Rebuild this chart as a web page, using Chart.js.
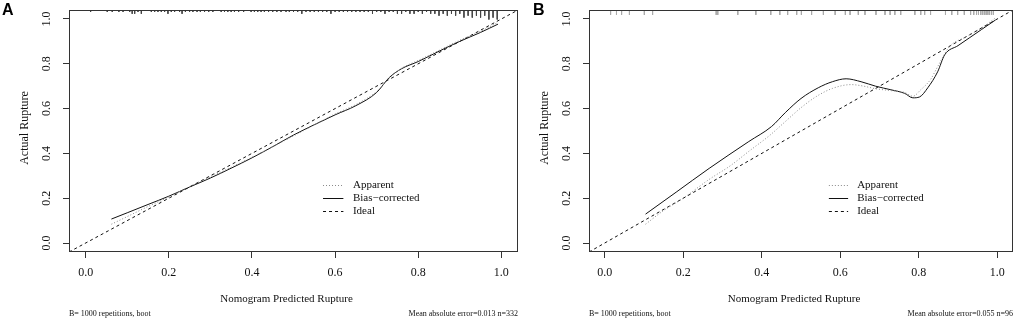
<!DOCTYPE html>
<html>
<head>
<meta charset="utf-8">
<script src="https://cdn.jsdelivr.net/npm/chart.js@4/dist/chart.umd.min.js"></script>
<style>
html, body { margin: 0; padding: 0; background: #fff; }
#panel-a { position: absolute; left: 0; top: 0; width: 520px; height: 323px; }
#panel-b { position: absolute; left: 520px; top: 0; width: 501px; height: 323px; }
</style>
</head>
<body>
<div id="panel-a"><canvas id="grafico-a"></canvas></div>
<div id="panel-b"><canvas id="grafico-b"></canvas></div>
<script>
// Ticks de los ejes
const ejeMin = -0.04;
const ejeMax = 1.04;
const valoresTicks = [0, 0.2, 0.4, 0.6, 0.8, 1.0];
const etiquetasTicks = ['0.0', '0.2', '0.4', '0.6', '0.8', '1.0'];
const etiquetasLeyenda = ['Apparent', 'Bias\u2212corrected', 'Ideal'];
const tituloX = 'Nomogram Predicted Rupture';
const tituloY = 'Actual Rupture';

// Panel A
const aAparenteX = [0.062, 0.1, 0.15, 0.2, 0.25, 0.3, 0.35, 0.4, 0.45, 0.5, 0.55, 0.6, 0.65, 0.7, 0.73, 0.76, 0.8, 0.85, 0.9, 0.95, 0.992];
const aAparenteY = [0.084, 0.118, 0.163, 0.205, 0.252, 0.295, 0.338, 0.383, 0.43, 0.478, 0.527, 0.576, 0.618, 0.676, 0.735, 0.78, 0.815, 0.86, 0.905, 0.945, 0.985];
const aCorregidoX = [0.062, 0.1, 0.15, 0.2, 0.25, 0.3, 0.35, 0.4, 0.45, 0.5, 0.55, 0.6, 0.65, 0.7, 0.73, 0.76, 0.8, 0.85, 0.9, 0.95, 0.992];
const aCorregidoY = [0.107, 0.135, 0.172, 0.209, 0.25, 0.29, 0.334, 0.38, 0.43, 0.482, 0.528, 0.572, 0.613, 0.672, 0.738, 0.778, 0.81, 0.856, 0.9, 0.94, 0.977];
const aRugX = [0.012, 0.052, 0.064, 0.08, 0.09, 0.106, 0.112, 0.118, 0.126, 0.134, 0.158, 0.166, 0.174, 0.182, 0.19, 0.198, 0.206, 0.214, 0.226, 0.232, 0.24, 0.25, 0.258, 0.268, 0.276, 0.286, 0.296, 0.306, 0.326, 0.334, 0.342, 0.35, 0.358, 0.368, 0.38, 0.398, 0.406, 0.414, 0.422, 0.43, 0.44, 0.45, 0.46, 0.47, 0.482, 0.49, 0.5, 0.51, 0.52, 0.53, 0.54, 0.55, 0.56, 0.57, 0.58, 0.59, 0.6, 0.61, 0.62, 0.63, 0.64, 0.65, 0.66, 0.67, 0.68, 0.69, 0.7, 0.71, 0.72, 0.73, 0.74, 0.75, 0.76, 0.77, 0.78, 0.79, 0.8, 0.81, 0.82, 0.83, 0.84, 0.85, 0.86, 0.87, 0.88, 0.89, 0.9, 0.91, 0.92, 0.93, 0.94, 0.95, 0.96, 0.97, 0.98, 0.99];
const aRugN = [1, 1, 1, 1, 1, 1, 2, 2, 1, 2, 1, 1, 1, 1, 1, 2, 1, 1, 1, 2, 1, 1, 1, 1, 1, 1, 1, 1, 1, 1, 1, 1, 1, 1, 1, 1, 1, 1, 1, 1, 1, 1, 1, 1, 1, 1, 1, 1, 2, 1, 1, 1, 1, 1, 1, 2, 1, 1, 1, 1, 1, 1, 1, 1, 1, 2, 1, 1, 2, 1, 1, 2, 2, 1, 2, 2, 1, 2, 1, 2, 2, 3, 2, 3, 2, 3, 2, 4, 3, 4, 3, 4, 3, 5, 4, 5];

// Panel B
const bAparenteX = [0.104, 0.15, 0.2, 0.266, 0.32, 0.367, 0.42, 0.46, 0.5, 0.54, 0.58, 0.628, 0.66, 0.689, 0.73, 0.764, 0.785, 0.805, 0.83, 0.848, 0.878, 0.92, 0.96, 0.995];
const bAparenteY = [0.084, 0.145, 0.2, 0.284, 0.345, 0.409, 0.48, 0.542, 0.604, 0.655, 0.69, 0.707, 0.7, 0.689, 0.68, 0.672, 0.655, 0.684, 0.73, 0.787, 0.876, 0.92, 0.96, 1.004];
const bCorregidoX = [0.104, 0.182, 0.266, 0.367, 0.425, 0.46, 0.5, 0.544, 0.58, 0.615, 0.653, 0.69, 0.729, 0.764, 0.785, 0.802, 0.823, 0.848, 0.866, 0.9, 0.93, 0.96, 0.995];
const bCorregidoY = [0.129, 0.227, 0.333, 0.453, 0.52, 0.582, 0.645, 0.693, 0.72, 0.733, 0.72, 0.7, 0.684, 0.668, 0.648, 0.652, 0.693, 0.764, 0.84, 0.881, 0.917, 0.953, 0.995];
const bRugX = [0.015, 0.03, 0.043, 0.063, 0.101, 0.122, 0.284, 0.288, 0.339, 0.385, 0.423, 0.446, 0.466, 0.489, 0.501, 0.527, 0.557, 0.587, 0.613, 0.625, 0.646, 0.663, 0.691, 0.714, 0.727, 0.739, 0.754, 0.79, 0.805, 0.815, 0.83, 0.868, 0.884, 0.899, 0.916, 0.932, 0.94, 0.947, 0.952, 0.958, 0.963, 0.968, 0.972, 0.976, 0.98, 0.985, 0.99];
const bRugN = bRugX.map(() => 1);

const zip = (xs, ys) => xs.map((x, i) => ({ x: x, y: ys[i] }));

// Rug de la parte superior: segmentos separados por huecos
function rugDatos(xs, ns, alto) {
    const puntos = [];
    xs.forEach((x, i) => {
        puntos.push({ x: x, y: ejeMax });
        puntos.push({ x: x, y: ejeMax - ns[i] * alto });
        puntos.push({ x: x, y: null });
    });
    return puntos;
}

const serif = '"Liberation Serif", "Times New Roman", serif';

const dibujoPanel = {
    id: 'dibujoPanel',
    afterDraw(chart, args, o) {
        const ctx = chart.ctx;
        const a = chart.chartArea;
        const xs = chart.scales.x;
        const ys = chart.scales.y;
        ctx.save();
        // caja
        ctx.strokeStyle = '#333';
        ctx.lineWidth = 1;
        ctx.strokeRect(a.left + 0.5, a.top + 0.5, a.right - a.left - 1, a.bottom - a.top - 1);
        ctx.fillStyle = '#111';
        // etiquetas del eje y (giradas)
        ctx.font = '12px ' + serif;
        ctx.textAlign = 'center';
        ctx.textBaseline = 'middle';
        valoresTicks.forEach((v, i) => {
            ctx.save();
            ctx.translate(a.left - 22, ys.getPixelForValue(v));
            ctx.rotate(-Math.PI / 2);
            ctx.fillText(etiquetasTicks[i], 0, 0);
            ctx.restore();
        });
        // titulo y
        ctx.save();
        ctx.translate(a.left - 44, (a.top + a.bottom) / 2 - 3);
        ctx.rotate(-Math.PI / 2);
        ctx.fillText(tituloY, 0, 0);
        ctx.restore();
        // titulo x
        ctx.font = '11px ' + serif;
        ctx.fillText(tituloX, (a.left + a.right) / 2 - 7, 299);
        // notas inferiores
        ctx.font = '8px ' + serif;
        ctx.textAlign = 'left';
        ctx.fillText(o.notaIzq, a.left, 314);
        ctx.textAlign = 'right';
        ctx.fillText(o.notaDer, a.right, 314);
        // letra del panel
        ctx.font = 'bold 16px "Liberation Sans", Arial, sans-serif';
        ctx.textAlign = 'left';
        ctx.textBaseline = 'top';
        ctx.fillStyle = '#000';
        ctx.fillText(o.letra, o.letraX, 3);
        // leyenda
        const estilos = [
            { color: '#8a8a8a', dash: [1, 2] },
            { color: '#111', dash: [] },
            { color: '#111', dash: [3, 3] }
        ];
        const filasY = [0.258, 0.2, 0.142];
        const x0 = xs.getPixelForValue(0.571);
        const x1 = xs.getPixelForValue(0.62);
        const xt = xs.getPixelForValue(0.643);
        ctx.font = '11px ' + serif;
        ctx.textBaseline = 'middle';
        etiquetasLeyenda.forEach((t, i) => {
            const y = Math.round(ys.getPixelForValue(filasY[i])) + 0.5;
            ctx.strokeStyle = estilos[i].color;
            ctx.setLineDash(estilos[i].dash);
            ctx.beginPath();
            ctx.moveTo(x0, y);
            ctx.lineTo(x1, y);
            ctx.stroke();
            ctx.fillStyle = '#111';
            ctx.fillText(t, xt, y);
        });
        ctx.restore();
    }
};

function crearPanel(canvasId, aparente, corregido, rug, colorRug, derecha, opciones) {
    const lineaBase = { showLine: true, pointRadius: 0, borderWidth: 1, fill: false, cubicInterpolationMode: 'monotone' };
    return new Chart(document.getElementById(canvasId), {
        type: 'scatter',
        data: {
            datasets: [
                Object.assign({}, lineaBase, { label: 'Rug', data: rug, borderColor: colorRug, spanGaps: false, cubicInterpolationMode: 'default', tension: 0 }),
                Object.assign({}, lineaBase, { label: etiquetasLeyenda[0], data: aparente, borderColor: '#8a8a8a', borderDash: [1, 2] }),
                Object.assign({}, lineaBase, { label: etiquetasLeyenda[1], data: corregido, borderColor: '#111' }),
                Object.assign({}, lineaBase, { label: etiquetasLeyenda[2], data: [{ x: ejeMin, y: ejeMin }, { x: ejeMax, y: ejeMax }], borderColor: '#111', borderDash: [3, 3], tension: 0 })
            ]
        },
        options: {
            responsive: true,
            maintainAspectRatio: false,
            animation: false,
            events: [],
            layout: { padding: { left: 0, top: 10, right: derecha, bottom: 0 } },
            plugins: {
                legend: { display: false },
                tooltip: { enabled: false },
                dibujoPanel: opciones
            },
            scales: {
                x: {
                    type: 'linear',
                    min: ejeMin,
                    max: ejeMax,
                    afterBuildTicks: s => { s.ticks = valoresTicks.map(v => ({ value: v })); },
                    afterFit: s => { s.height = 71; },
                    grid: { display: true, drawOnChartArea: false, drawTicks: true, tickLength: 6, color: '#333' },
                    border: { display: false },
                    ticks: {
                        font: { family: serif, size: 12 },
                        color: '#111',
                        padding: 8,
                        maxRotation: 0,
                        callback: (v) => etiquetasTicks[valoresTicks.indexOf(v)] || ''
                    }
                },
                y: {
                    type: 'linear',
                    min: ejeMin,
                    max: ejeMax,
                    afterBuildTicks: s => { s.ticks = valoresTicks.map(v => ({ value: v })); },
                    afterFit: s => { s.width = 69; },
                    grid: { display: true, drawOnChartArea: false, drawTicks: true, tickLength: 6, color: '#333' },
                    border: { display: false },
                    ticks: { display: false }
                }
            }
        },
        plugins: [dibujoPanel]
    });
}

crearPanel('grafico-a', zip(aAparenteX, aAparenteY), zip(aCorregidoX, aCorregidoY),
    rugDatos(aRugX, aRugN, 0.0085), '#444', 2,
    { letra: 'A', letraX: 2, notaIzq: 'B= 1000 repetitions, boot', notaDer: 'Mean absolute error=0.013 n=332' });

crearPanel('grafico-b', zip(bAparenteX, bAparenteY), zip(bCorregidoX, bCorregidoY),
    rugDatos(bRugX, bRugN, 0.022), '#aaa', 8,
    { letra: 'B', letraX: 13, notaIzq: 'B= 1000 repetitions, boot', notaDer: 'Mean absolute error=0.055 n=96' });
</script>
</body>
</html>
